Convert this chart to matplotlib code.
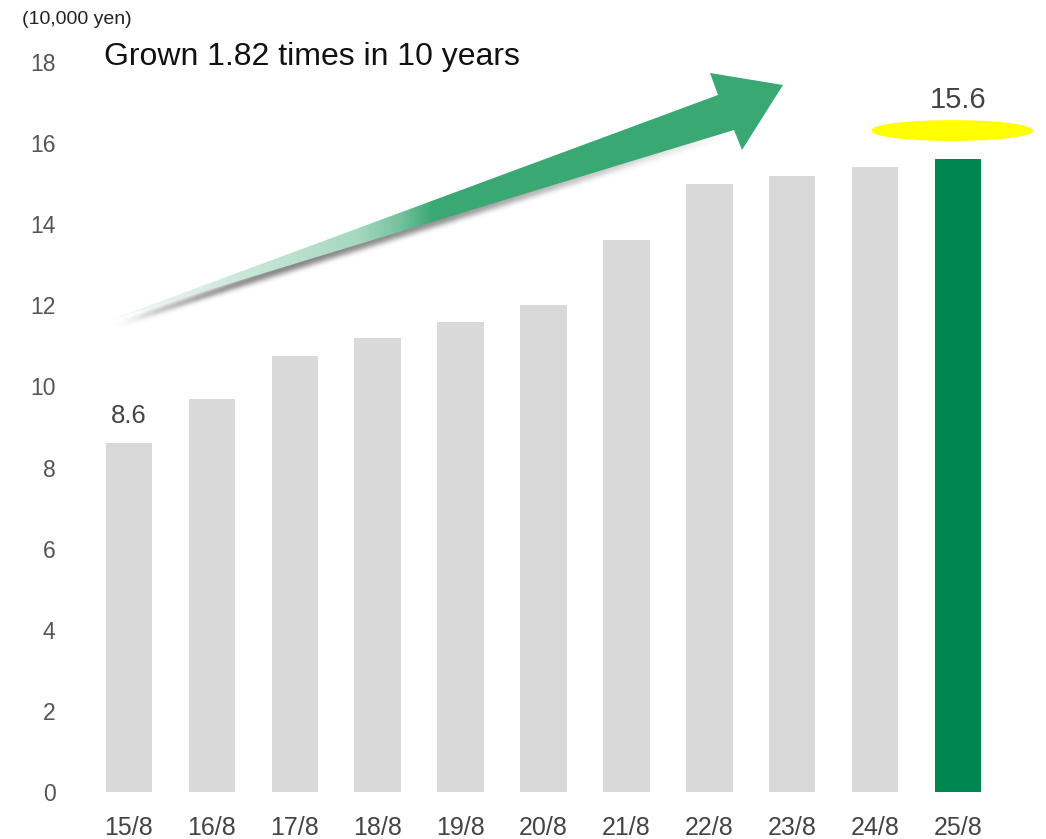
import numpy as np
import matplotlib
matplotlib.use("Agg")
import matplotlib.pyplot as plt
from matplotlib.patches import Polygon, Ellipse
from matplotlib.path import Path

plt.rcParams['font.family'] = ['Liberation Sans', 'DejaVu Sans']

# ---- data ----
categories = ["15/8", "16/8", "17/8", "18/8", "19/8", "20/8", "21/8", "22/8", "23/8", "24/8", "25/8"]
values = [8.6, 9.7, 10.75, 11.2, 11.6, 12.0, 13.6, 15.0, 15.2, 15.4, 15.6]
yticks = [0, 2, 4, 6, 8, 10, 12, 14, 16, 18]
unit_label = "(10,000 yen)"
headline = "Grown 1.82 times in 10 years"

W, H = 1046, 839
fig = plt.figure(figsize=(W / 100, H / 100), dpi=100)
fig.patch.set_facecolor("white")

ax = fig.add_axes([87.5 / W, 47 / H, 912 / W, 730 / H])
x = np.arange(len(categories))
colors = ["#D9D9D9"] * (len(values) - 1) + ["#00874F"]
ax.bar(x, values, width=0.56, color=colors, zorder=2)
ax.set_xlim(-0.5, len(categories) - 0.5)
ax.set_ylim(0, 18)
ax.set_yticks(yticks)
ax.set_yticklabels([str(t) for t in yticks])
ax.set_xticks(x)
ax.set_xticklabels(categories)
ax.tick_params(axis="y", length=0, pad=23, labelsize=16.5, labelcolor="#555555")
ax.tick_params(axis="x", length=0, pad=17, labelsize=18, labelcolor="#444444")
for s in ax.spines.values():
    s.set_visible(False)

# value labels
ax.annotate(f"{values[0]}", (x[0], values[0]), xytext=(0, 11), textcoords="offset points",
            ha="center", va="bottom", fontsize=18.5, color="#444444")
ax.annotate(f"{values[-1]}", (x[-1], values[-1]), xytext=(0, 33), textcoords="offset points",
            ha="center", va="bottom", fontsize=21, color="#444444")
ax.add_patch(Ellipse((x[-1] - 0.07, values[-1] + 0.71), 1.93, 0.48, color="#FFFF00",
                     clip_on=False, zorder=3))

# ---- overlay in pixel coordinates for decoration ----
ov = fig.add_axes([0, 0, 1, 1], zorder=5)
ov.axis("off")
ov.patch.set_alpha(0)

ov.text(22, 19, unit_label, fontsize=14, color="#222222", ha="left", va="center")
ov.text(104, 57, headline, fontsize=23, color="#111111", ha="left", va="center")

# arrow geometry (pixels)
arrow = np.array([
    (110, 320),   # tail point
    (718, 95),    # shaft top meets head
    (710, 73),    # head upper corner
    (783, 85),    # tip
    (742, 150),   # head lower corner
    (734, 130),   # shaft bottom meets head
])

gx0, gx1, gy0, gy1 = 90, 800, 60, 345
gxs = np.arange(gx0, gx1)
gys = np.arange(gy0, gy1)
GX, GY = np.meshgrid(gxs + 0.5, gys + 0.5)

# shadow: blurred, shifted mask of shaft
shaft = np.array([(112, 322), (718, 100), (734, 130)])
shadow_path = Path(shaft + np.array([1, 4]))
mask = shadow_path.contains_points(np.c_[GX.ravel(), GY.ravel()]).reshape(GX.shape).astype(float)
k = np.ones(5) / 5
for _ in range(3):
    mask = np.apply_along_axis(lambda r: np.convolve(r, k, mode="same"), 1, mask)
    mask = np.apply_along_axis(lambda c: np.convolve(c, k, mode="same"), 0, mask)
fade = np.interp(GX, [100, 150, 450, 740], [0.0, 0.75, 0.6, 0.0])
sh = np.zeros(GX.shape + (4,))
sh[..., :3] = 0.3
sh[..., 3] = mask * fade
ov.imshow(sh, extent=(gx0, gx1, gy1, gy0), interpolation="bilinear", zorder=1, aspect="auto")

# gradient arrow body
poly = Polygon(arrow, closed=True, facecolor="none", edgecolor="none")
ov.add_patch(poly)
green = np.array([0x3A, 0xA8, 0x73]) / 255
grad = np.zeros(GX.shape + (4,))
a = np.interp(GX, [110, 200, 357, 400, 433], [0.05, 0.2, 0.45, 0.7, 1.0])
grad[..., :3] = green * a[..., None] + (1 - a[..., None]) * 1.0
grad[..., 3] = 1.0
im = ov.imshow(grad, extent=(gx0, gx1, gy1, gy0), interpolation="bilinear", zorder=2, aspect="auto")
im.set_clip_path(poly)
ov.set_xlim(0, W)
ov.set_ylim(H, 0)

fig.savefig("out.png", dpi=100, facecolor="white")
